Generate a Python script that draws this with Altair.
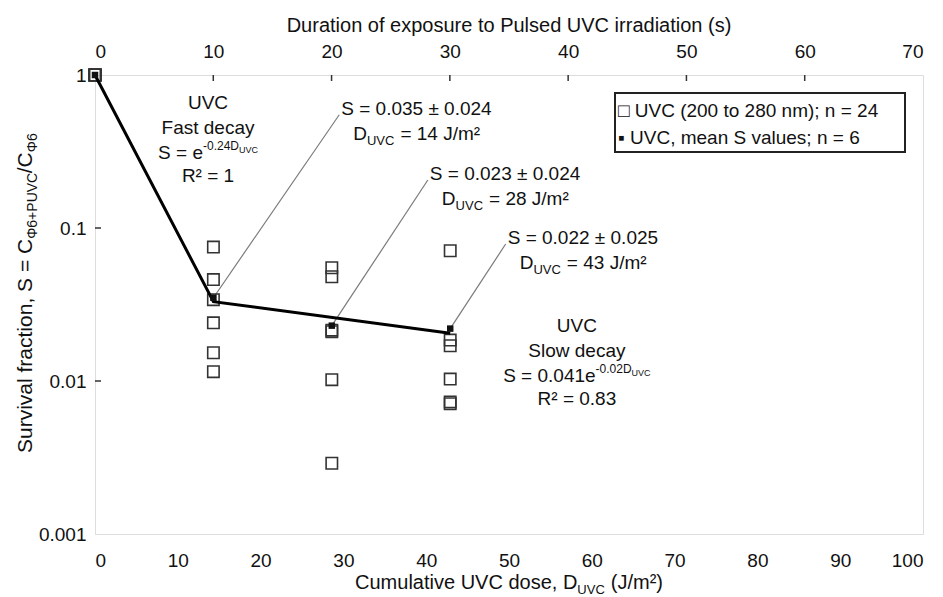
import altair as alt
import pandas as pd

# ---------------- data ----------------
dose_levels = [0, 14.3, 28.6, 42.9]          # cumulative UVC dose (J/m2)
s_dose0 = [1, 1, 1, 1, 1, 1]
s_dose14 = [0.075, 0.046, 0.034, 0.024, 0.0153, 0.0115]
s_dose29 = [0.055, 0.048, 0.0215, 0.021, 0.0102, 0.0029]
s_dose43 = [0.071, 0.0185, 0.017, 0.0103, 0.0073, 0.0071]
mean_s = [1, 0.035, 0.023, 0.022]
fit_dose = [0, 14.3, 42.9]
fit_s = [1, 0.033, 0.0205]

bottom_ticks = [0, 10, 20, 30, 40, 50, 60, 70, 80, 90, 100]
top_ticks = [0, 10, 20, 30, 40, 50, 60, 70]
y_ticks = [1, 0.1, 0.01, 0.001]

NB = "\u00a0"
ann_s_text = ["S = 0.035 \u00b1 0.024", "S = 0.023 \u00b1 0.024", "S = 0.022 \u00b1 0.025"]
ann_d_text = ["= 14 J/m\u00b2", "= 28 J/m\u00b2", "= 43 J/m\u00b2"]
ann_x = [29.5, 40.2, 49.6]
ann_y = [0.55, 0.206, 0.0786]

fast_lines = ["UVC", "Fast decay", "S = e", "-0.24D", "R\u00b2 = 1"]
slow_lines = ["UVC", "Slow decay", "S = 0.041e", "-0.02D", "R\u00b2 = 0.83"]
fast_anchor = (13.65, 0.60)
slow_anchor = (58.2, 0.0209)

legend_rows = ["\u25a1" + NB + "UVC (200 to 280 nm); n = 24", "\u25aa" + NB + "UVC, mean S values; n = 6"]

# ---------------- helpers ----------------
FONT = "Liberation Sans, Arial, sans-serif"
TXT = "#111111"
W = {' ': 278, '\u00a0': 278, 'A': 667, 'B': 667, 'C': 722, 'D': 722, 'E': 667, 'F': 611, 'G': 778, 'H': 722,
     'I': 278, 'J': 500, 'K': 667, 'L': 556, 'M': 833, 'N': 722, 'O': 778, 'P': 667, 'Q': 778, 'R': 722,
     'S': 667, 'T': 611, 'U': 722, 'V': 667, 'W': 944, 'X': 667, 'Y': 667, 'Z': 611, 'a': 556, 'b': 556,
     'c': 500, 'd': 556, 'e': 556, 'f': 278, 'g': 556, 'h': 556, 'i': 222, 'j': 222, 'k': 500, 'l': 222,
     'm': 833, 'n': 556, 'o': 556, 'p': 556, 'q': 556, 'r': 333, 's': 500, 't': 278, 'u': 556, 'v': 500,
     'w': 722, 'x': 500, 'y': 500, 'z': 500, '.': 278, ',': 278, '=': 584, '+': 584, '-': 333, '/': 278,
     '(': 333, ')': 333, ';': 278, '\u00b1': 584, '\u00b2': 333, '\u03a6': 764}


def tw(s, size):
    return sum(W.get(c, 556) for c in s) * size / 1000.0


xs = alt.Scale(domain=[0, 100], nice=False, zero=False)
ys = alt.Scale(type="log", domain=[0.001, 1], nice=False)
xaxis = alt.Axis(values=bottom_ticks, title=None, ticks=False, domain=False, grid=False,
                 labelFontSize=19, labelPadding=17, labelFont=FONT, labelColor=TXT)
yaxis = alt.Axis(values=y_ticks, title=None, ticks=False, domain=False, grid=False, format=".3~f",
                 labelFontSize=19, labelPadding=9, labelFont=FONT, labelColor=TXT)


def X(f):
    return alt.X(f"{f}:Q", scale=xs, axis=xaxis)


def Y(f):
    return alt.Y(f"{f}:Q", scale=ys, axis=yaxis)


def dtext(x, y, t, dx=0, dy=0, size=19, align="left"):
    df = pd.DataFrame({"x": x, "y": y, "t": t})
    return alt.Chart(df).mark_text(dx=dx, dy=dy, fontSize=size, align=align, baseline="alphabetic",
                                   font=FONT, color=TXT).encode(x=X("x"), y=Y("y"), text="t:N")


def ptext(px, py, t, dx=0, dy=0, size=19, align="left", angle=0):
    df = pd.DataFrame({"t": [t]})
    kw = dict(dx=dx, dy=dy, fontSize=size, align=align, baseline="alphabetic", font=FONT, color=TXT)
    if angle:
        kw["angle"] = angle
    return alt.Chart(df).mark_text(**kw).encode(x=alt.value(px), y=alt.value(py), text="t:N")


# ---------------- scatter / lines ----------------
pts = pd.DataFrame({
    "dose": [dose_levels[0]] * 6 + [dose_levels[1]] * 6 + [dose_levels[2]] * 6 + [dose_levels[3]] * 6,
    "S": s_dose0 + s_dose14 + s_dose29 + s_dose43,
})
means = pd.DataFrame({"dose": dose_levels, "S": mean_s})
fit = pd.DataFrame({"dose": fit_dose, "S": fit_s})
leaders = pd.DataFrame({"x": dose_levels[1:], "y": mean_s[1:], "x2": ann_x, "y2": ann_y})

leader_layer = alt.Chart(leaders).mark_rule(color="#7a7a7a", strokeWidth=1.2).encode(
    x=X("x"), y=Y("y"), x2="x2:Q", y2="y2:Q")
square_layer = alt.Chart(pts).mark_point(shape="square", filled=False, size=130, stroke="#333333",
                                         strokeWidth=1.6, opacity=1).encode(x=X("dose"), y=Y("S"))
fit_layer = alt.Chart(fit).mark_line(color="#000000", strokeWidth=3).encode(x=X("dose"), y=Y("S"))
mean_layer = alt.Chart(means).mark_point(shape="square", filled=True, size=42, color="#111111",
                                         opacity=1).encode(x=X("dose"), y=Y("S"))

ytick_df = pd.DataFrame({"S": [0.1, 0.01]})
ytick_layer = alt.Chart(ytick_df).mark_rule(color="#333333", strokeWidth=1.5).encode(
    y=Y("S"), x=alt.value(0), x2=alt.value(6))

layers = [leader_layer, square_layer, fit_layer, mean_layer, ytick_layer]

# annotations for mean values
layers.append(dtext(ann_x, ann_y, ann_s_text, dx=2))
d_dx = 14
layers.append(dtext(ann_x, ann_y, ["D"] * 3, dx=d_dx, dy=25))
layers.append(dtext(ann_x, ann_y, ["UVC"] * 3, dx=d_dx + tw("D", 19), dy=30, size=13))
layers.append(dtext(ann_x, ann_y, ann_d_text, dx=d_dx + tw("D", 19) + tw("UVC", 13) + 6, dy=25))


def block(anchor, lines):
    ax, ay = [anchor[0]], [anchor[1]]
    out = []
    out.append(dtext(ax, ay, [lines[0]], dy=0, align="center"))
    out.append(dtext(ax, ay, [lines[1]], dy=25, align="center"))
    w1, w2, w3 = tw(lines[2], 19), tw(lines[3], 12), tw("UVC", 9)
    start = -(w1 + w2 + w3) / 2
    out.append(dtext(ax, ay, [lines[2]], dx=start, dy=50))
    out.append(dtext(ax, ay, [lines[3]], dx=start + w1, dy=41, size=12))
    out.append(dtext(ax, ay, ["UVC"], dx=start + w1 + w2, dy=44, size=9))
    out.append(dtext(ax, ay, [lines[4]], dy=73, align="center"))
    return out


layers += block(fast_anchor, fast_lines)
layers += block(slow_anchor, slow_lines)

# legend box
PW, PH = 828, 459
legend_box = alt.Chart(pd.DataFrame({"a": [0]})).mark_rect(fill="white", stroke="#222222", strokeWidth=2).encode(
    x=alt.value(520), x2=alt.value(810), y=alt.value(18), y2=alt.value(77))
layers.append(legend_box)
layers.append(ptext(523, 42, legend_rows[0]))
layers.append(ptext(523, 69, legend_rows[1]))

# bottom axis title with subscript
p1, p2, p3 = "Cumulative UVC dose, D", "UVC", "(J/m\u00b2)"
tot = tw(p1, 20) + tw(p2, 13) + 6 + tw(p3, 20)
sx = PW / 2 - tot / 2
layers.append(ptext(sx, PH + 55, p1, size=20))
layers.append(ptext(sx + tw(p1, 20), PH + 60, p2, size=13))
layers.append(ptext(sx + tw(p1, 20) + tw(p2, 13) + 6, PH + 55, p3, size=20))

# y axis title (rotated) with subscripts
q = ["Survival fraction, S = C", "\u03a66+PUVC", "/C", "\u03a66"]
qs = [21, 14, 21, 14]
qdy = [0, 5, 0, 5]
start_y = 378
off = 0
for t, s, d in zip(q, qs, qdy):
    layers.append(ptext(-63, start_y, t, dx=off, dy=d, size=s, angle=270))
    off += tw(t, s)

# top title
layers.append(ptext(PW / 2, -43, "Duration of exposure to Pulsed UVC irradiation (s)", size=20, align="center"))

main = alt.layer(*layers)

# ---------------- top axis (exposure time) ----------------
ts = alt.Scale(domain=[0, 70], nice=False, zero=False)
taxis = alt.Axis(orient="top", values=top_ticks, title=None, ticks=False, domain=False, grid=False,
                 labelFontSize=19, labelPadding=14, labelFont=FONT, labelColor=TXT)
tdf = pd.DataFrame({"t": top_ticks})
top_ticks_layer = alt.Chart(tdf[(tdf.t > 0) & (tdf.t < 70)]).mark_rule(color="#333333", strokeWidth=1.5).encode(
    x=alt.X("t:Q", scale=ts, axis=taxis), y=alt.value(0), y2=alt.value(6))
top_axis_layer = alt.Chart(tdf).mark_point(opacity=0).encode(
    x=alt.X("t:Q", scale=ts, axis=taxis), y=alt.value(0))
top = alt.layer(top_ticks_layer, top_axis_layer)

chart = alt.layer(main, top).resolve_scale(x="independent").properties(
    width=PW, height=PH,
    padding={"left": 95, "top": 75, "right": 20, "bottom": 63},
    autosize=alt.AutoSizeParams(type="none"),
).configure_view(stroke="#222222", strokeWidth=2).configure(background="white")

chart.save("out.html", embed_options={"renderer": "svg", "actions": False})
